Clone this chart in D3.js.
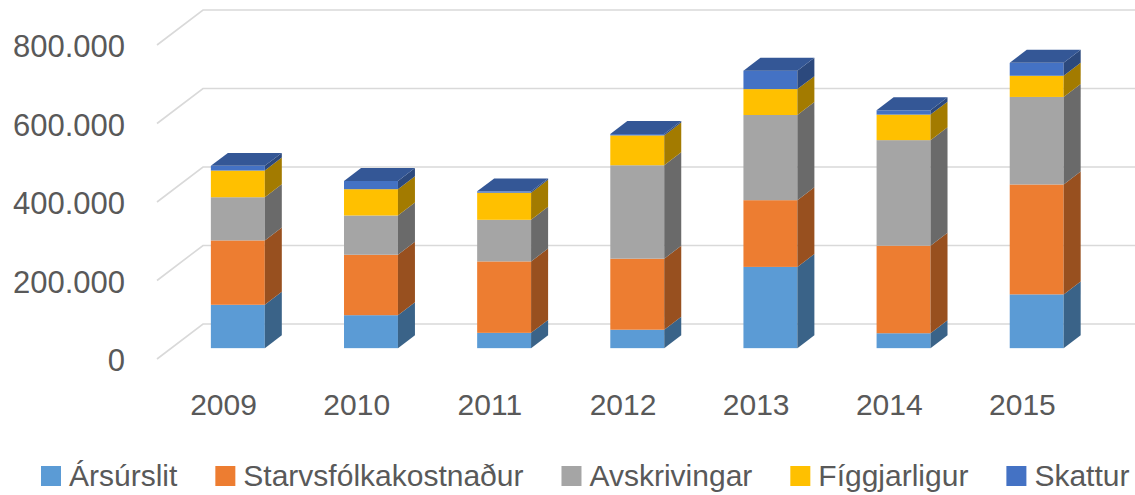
<!DOCTYPE html>
<html>
<head>
<meta charset="utf-8">
<script src="https://cdn.jsdelivr.net/npm/d3@7"></script>
<style>
  body { margin: 0; background: #fff; }
  svg { display: block; font-family: "Liberation Sans", Arial, sans-serif; }
</style>
</head>
<body>
<div class="chart"></div>
<script>
const years = ["2009", "2010", "2011", "2012", "2013", "2014", "2015"]
const seriesNames = ["Ársúrslit", "Starvsfólkakostnaður", "Avskrivingar", "Fíggjarligur", "Skattur"]
const colors = ["#5b9bd5", "#ed7d31", "#a5a5a5", "#ffc000", "#4472c4"]

const arsurslit = [110500, 84000, 39000, 47000, 207000, 38000, 137000]
const starvsfolk = [164000, 154000, 182000, 181000, 170000, 223000, 280000]
const avskrivingar = [110000, 100000, 106000, 238000, 217000, 269000, 223000]
const figgjarligur = [68000, 67000, 69000, 76000, 66000, 65000, 54000]
const skattur = [12000, 21000, 3500, 3500, 47000, 11000, 33000]

const yTicks = [0, 200000, 400000, 600000, 800000]

const width = 1135
const height = 495

// rows for d3.stack
const rows = years.map((y, i) => ({
  year: y,
  "Ársúrslit": arsurslit[i],
  "Starvsfólkakostnaður": starvsfolk[i],
  "Avskrivingar": avskrivingar[i],
  "Fíggjarligur": figgjarligur[i],
  "Skattur": skattur[i]
}))

const stacked = d3.stack().keys(seriesNames)(rows)

// front plane of the floor, depth goes back up-right
const depthX = 46
const depthY = 35
const barZ0 = 0.31
const barZ1 = 0.68

const xScale = d3.scaleBand()
  .domain(years)
  .range([157, 1089])
  .paddingInner(0.595)
  .paddingOuter(0.2975)

const labelScale = d3.scaleBand()
  .domain(years)
  .range([157, 1089])

const yScale = d3.scaleLinear()
  .domain([0, 800000])
  .range([359, 45])

const color = d3.scaleOrdinal().domain(seriesNames).range(colors)

const fmt = d3.formatLocale({ decimal: ",", thousands: ".", grouping: [3], currency: ["", " kr"] }).format(",d")

const proj = (x, v, z) => [x + z * depthX, yScale(v) - z * depthY]

const svg = d3.select(".chart").append("svg")
  .attr("width", width)
  .attr("height", height)

// gridlines: side wall diagonal + back wall
const grid = svg.append("g")
yTicks.forEach(v => {
  const a = proj(157, v, 0)
  const b = proj(157, v, 1)
  grid.append("polyline")
    .attr("points", [a, b, [width, b[1]]].map(p => p.join(",")).join(" "))
    .attr("fill", "none")
    .attr("stroke", "#d9d9d9")
    .attr("stroke-width", 1.6)
})

// y labels
svg.append("g")
  .selectAll("text")
  .data(yTicks)
  .join("text")
    .attr("x", 125)
    .attr("y", d => yScale(d) + 12)
    .attr("text-anchor", "end")
    .attr("font-size", 31)
    .attr("fill", "#595959")
    .text(d => fmt(d))

// bars
const bars = svg.append("g")
const bw = xScale.bandwidth()
const dxBar = (barZ1 - barZ0) * depthX
const dyBar = (barZ1 - barZ0) * depthY

years.forEach((year, i) => {
  const g = bars.append("g")
  stacked.forEach((s, si) => {
    const d = s[i]
    const c = color(s.key)
    const x0 = xScale(year) + barZ0 * depthX
    const x1 = x0 + bw
    const yb = yScale(d[0]) - barZ0 * depthY
    const yt = yScale(d[1]) - barZ0 * depthY

    g.append("rect")
      .attr("x", x0)
      .attr("y", yt)
      .attr("width", bw)
      .attr("height", yb - yt)
      .attr("fill", c)

    g.append("polygon")
      .attr("points", [[x1, yb], [x1 + dxBar, yb - dyBar], [x1 + dxBar, yt - dyBar], [x1, yt]].map(p => p.join(",")).join(" "))
      .attr("fill", d3.color(c).darker(1.25))

    if (si === stacked.length - 1) {
      g.append("polygon")
        .attr("points", [[x0, yt], [x1, yt], [x1 + dxBar, yt - dyBar], [x0 + dxBar, yt - dyBar]].map(p => p.join(",")).join(" "))
        .attr("fill", d3.color(c).darker(0.75))
    }
  })
})

// x labels
svg.append("g")
  .selectAll("text")
  .data(years)
  .join("text")
    .attr("x", d => labelScale(d) + labelScale.bandwidth() / 2)
    .attr("y", 415)
    .attr("text-anchor", "middle")
    .attr("font-size", 30)
    .attr("fill", "#595959")
    .text(d => d)

// legend
const legend = svg.append("g")
let lx = 41
seriesNames.forEach(name => {
  legend.append("rect")
    .attr("x", lx)
    .attr("y", 466)
    .attr("width", 20)
    .attr("height", 20)
    .attr("fill", color(name))
  const t = legend.append("text")
    .attr("x", lx + 28)
    .attr("y", 486)
    .attr("font-size", 30)
    .attr("fill", "#595959")
    .text(name)
  lx += 28 + t.node().getComputedTextLength() + 38
})
</script>
</body>
</html>
